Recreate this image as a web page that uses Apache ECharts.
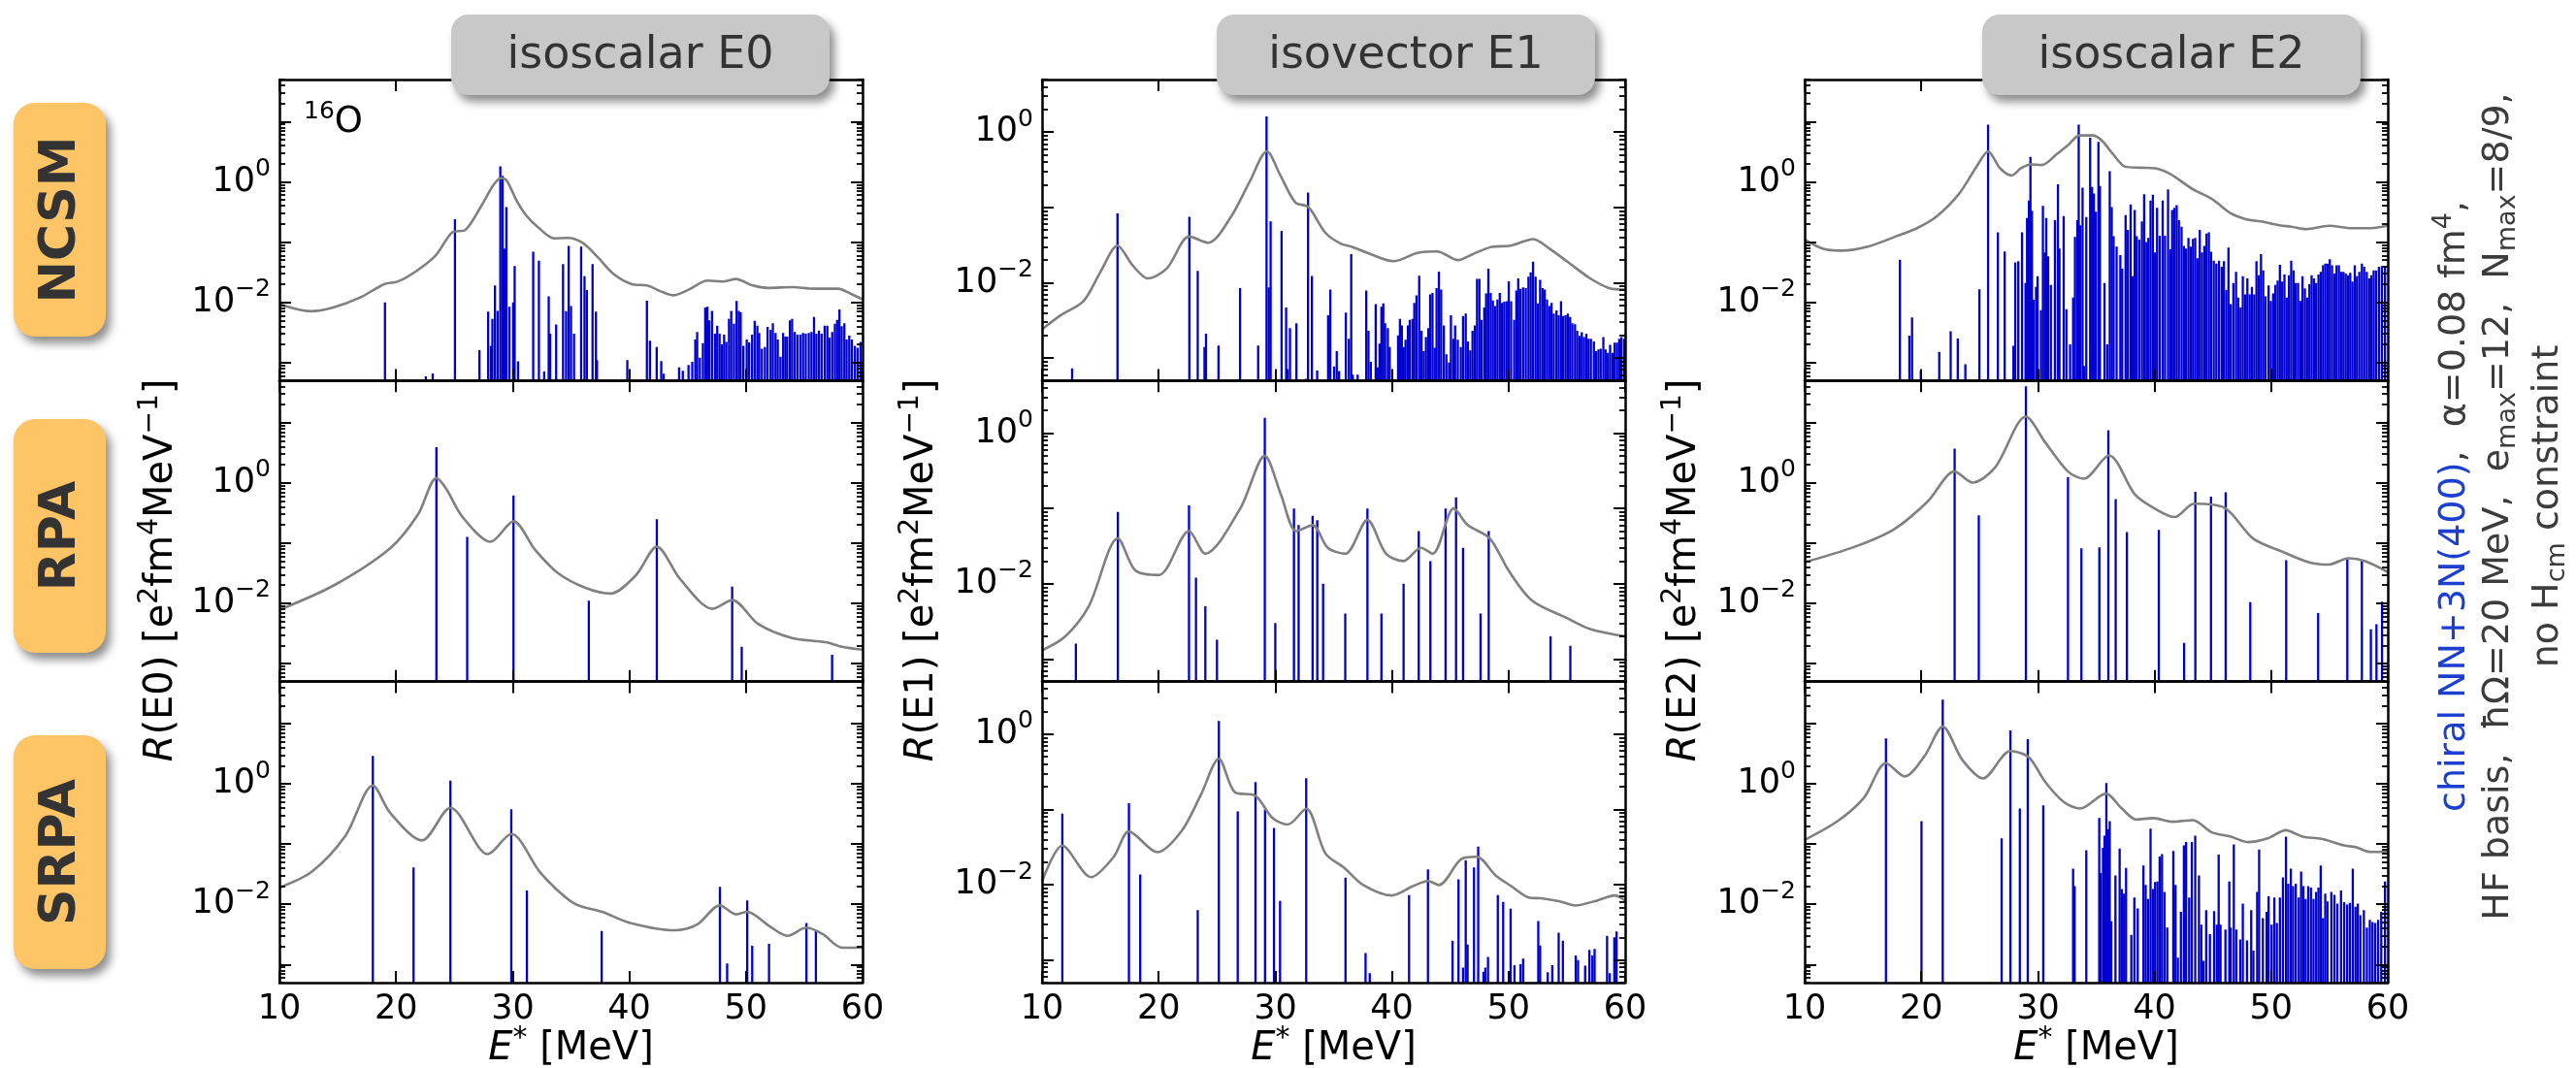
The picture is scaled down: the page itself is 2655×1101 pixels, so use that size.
<!DOCTYPE html>
<html>
<head>
<meta charset="utf-8">
<script src="https://cdn.jsdelivr.net/npm/echarts@6/dist/echarts.min.js"></script>
<style>
html, body { margin: 0; padding: 0; background: #ffffff; }
#chart { width: 2655px; height: 1101px; }
</style>
</head>
<body>
<div id="chart"></div>
<script>
// ---------------- data ----------------
const energyTicks = [10, 20, 30, 40, 50, 60];
const multipoles = ['isoscalar E0', 'isovector E1', 'isoscalar E2'];
const methods = ['NCSM', 'RPA', 'SRPA'];
const yRangeE0E2 = [5e-4, 50];
const yRangeE1 = [5e-4, 5];
const yLabelDecades = [1e-2, 1];

// transition strengths [E* (MeV), R (units of the column)]
const ncsmE0Sticks = [
  [19.05,1.0e-2],[22.55,5.9e-4],[23.14,6.6e-4],[25.05,0.24],[27.15,1.6e-3],[27.90,7.0e-3],[28.13,1.9e-3],
  [28.26,5.3e-3],[28.48,1.9e-2],[28.71,7.2e-3],[28.94,1.8],[29.13,1.26],[29.29,7.8e-2],[29.46,0.38],
  [29.72,8.4e-3],[30.04,1.0e-2],[30.17,4.0e-2],[30.46,1.05e-3],[31.76,6.9e-2],[32.25,4.9e-2],[32.70,7.1e-4],
  [33.09,1.26e-2],[33.22,3.0e-3],[33.73,4.3e-3],[34.32,4.3e-2],[34.58,7.1e-3],[34.80,8.6e-2],[35.00,8.7e-3],
  [35.26,3.0e-3],[35.87,8.4e-2],[36.16,2.7e-2],[36.36,1.6e-2],[36.85,4.3e-2],[37.14,7.0e-3],[37.23,1.1e-3],
  [39.83,1.1e-3],[41.51,1.06e-2],[41.77,2.3e-3],[42.35,1.8e-3],[42.74,1.06e-3],[42.94,6.5e-4],[44.27,8.3e-4],
  [44.59,7.3e-4],[45.08,9.1e-4],[45.40,1.03e-3],[45.66,2.4e-3],[45.82,3.2e-3],[46.05,1.2e-3],[46.31,2.1e-3],
  [46.51,8.2e-3],[46.70,8.4e-3],[46.86,5.0e-3],[47.09,7.2e-3],[47.35,3.0e-3],[47.54,4.1e-3],[47.74,3.0e-3],
  [47.93,2.0e-3],[48.13,2.9e-3],[48.32,2.2e-3],[48.55,5.3e-3],[48.74,7.2e-3],[48.97,4.4e-3],[49.20,1.05e-2],
  [49.39,7.2e-3],[49.55,6.8e-3],[49.78,1.9e-3],[50.07,2.4e-3],[50.27,2.15e-3],[50.53,2.9e-3],[50.75,4.9e-3],
  [50.98,4.1e-3],[51.14,3.1e-3],[51.37,1.7e-3],[51.63,1.8e-3],[51.86,3.9e-3],[52.12,3.5e-3],[52.31,4.5e-3],
  [52.54,3.1e-3],[52.73,2.4e-3],[52.96,1.25e-3],[53.19,3.1e-3],[53.38,2.7e-3],[53.54,2.7e-3],[53.77,5.0e-3],
  [53.96,5.3e-3],[54.19,3.2e-3],[54.42,2.9e-3],[54.68,2.9e-3],[54.90,3.1e-3],[55.13,3.0e-3],[55.39,3.1e-3],
  [55.62,3.2e-3],[55.84,5.7e-3],[56.04,3.0e-3],[56.26,3.4e-3],[56.49,3.0e-3],[56.75,4.1e-3],[56.98,4.1e-3],
  [57.17,2.6e-3],[57.40,3.2e-3],[57.63,4.4e-3],[57.82,5.1e-3],[58.02,7.6e-3],[58.21,4.0e-3],[58.44,4.5e-3],
  [58.63,2.4e-3],[58.86,2.8e-3],[59.08,2.4e-3],[59.34,1.9e-3],[59.57,1.75e-3],[59.83,2.2e-3]
];
const ncsmE0Curve = [
  [10.0,9.3e-3],[12.67,7.1e-3],[14.61,8.2e-3],[16.88,1.19e-2],[18.99,2.0e-2],[20.12,2.2e-2],[21.42,3.0e-2],
  [23.36,5.9e-2],[24.82,0.145],[25.96,0.16],[27.25,0.38],[28.39,0.91],[29.04,1.16],[29.52,1.03],[30.33,0.49],
  [31.14,0.28],[32.12,0.18],[33.57,0.115],[34.71,0.117],[36.0,0.097],[37.3,0.056],[38.6,0.030],[40.22,0.020],
  [41.52,0.019],[42.81,0.0149],[43.79,0.0131],[45.08,0.0162],[46.7,0.0229],[48.0,0.0221],[49.13,0.0244],
  [50.59,0.019],[51.89,0.0173],[54.0,0.0179],[55.78,0.0168],[57.89,0.0168],[59.02,0.0138],[60.0,0.0112]
];

const ncsmE1Sticks = [
  [12.58,7.3e-4],[16.47,8.3e-2],[22.63,7.5e-2],[23.35,1.44e-2],[23.93,1.4e-3],[24.06,2.1e-3],[25.13,1.46e-3],
  [26.98,8.5e-3],[28.53,1.46e-3],[29.25,1.62],[29.44,8.7e-3],[29.60,6.5e-2],[30.54,4.9e-2],[30.93,4.7e-3],
  [31.06,7.1e-4],[31.26,2.5e-3],[31.81,2.9e-3],[32.62,5.3e-4],[32.81,0.158],[33.14,1.23e-2],[33.59,6.8e-4],
  [34.53,3.7e-3],[34.72,8.1e-3],[35.05,7.7e-4],[35.27,1.23e-3],[35.47,6.7e-4],[36.05,4.0e-3],[36.31,1.8e-3],
  [36.51,2.4e-2],[36.64,6e-4],[37.06,6e-4],[37.80,7.9e-3],[37.99,2.3e-3],[38.19,8.9e-4],[38.61,5.2e-3],
  [38.78,7.5e-4],[38.94,1.55e-3],[39.10,4.8e-3],[39.26,5.3e-3],[39.42,2.9e-3],[39.65,2.5e-3],[39.81,1.4e-3],
  [40.53,2.0e-3],[40.69,3.3e-3],[40.85,2.7e-3],[41.01,1.4e-3],[41.17,1.75e-3],[41.37,2.7e-3],[41.53,3.2e-3],
  [41.76,3.3e-3],[41.92,5.4e-3],[42.11,6.8e-3],[42.34,1.24e-2],[42.54,2.3e-3],[42.73,1.23e-3],[42.92,1.9e-3],
  [43.12,2.5e-3],[43.28,7.0e-3],[43.48,7.3e-3],[43.67,1.37e-3],[43.83,8.5e-3],[44.03,1.4e-2],[44.22,8.1e-3],
  [44.45,2.7e-3],[44.67,1.12e-3],[44.90,8.7e-4],[45.06,3.7e-3],[45.26,1.8e-3],[45.42,2.7e-3],[45.65,1.75e-3],
  [45.91,1.4e-3],[46.10,3.6e-3],[46.33,3.9e-3],[46.52,1.66e-3],[46.72,1.26e-3],[46.91,2.3e-3],[47.11,2.7e-3],
  [47.30,1.12e-2],[47.50,1.12e-2],[47.69,3.2e-3],[47.92,4.7e-3],[48.08,7.2e-3],[48.27,1.54e-2],[48.47,7.3e-3],
  [48.66,5.8e-3],[48.86,4.9e-3],[49.05,6.0e-3],[49.25,7.3e-3],[49.44,5.4e-3],[49.63,5.6e-3],[49.83,5.7e-3],
  [50.02,1.04e-2],[50.22,5.7e-3],[50.48,3.2e-3],[50.67,7.9e-3],[50.83,1.14e-2],[51.03,8.3e-3],[51.25,8.7e-3],
  [51.48,8.5e-3],[51.71,1.2e-2],[51.90,1.37e-2],[52.10,1.9e-2],[52.32,1.2e-2],[52.52,5.3e-3],[52.71,1.09e-2],
  [52.91,8.5e-3],[53.10,8.1e-3],[53.30,6.0e-3],[53.49,4.9e-3],[53.69,5.4e-3],[53.88,3.9e-3],[54.11,4.3e-3],
  [54.30,3.7e-3],[54.50,5.7e-3],[54.69,3.6e-3],[54.89,3.7e-3],[55.08,3.9e-3],[55.28,3.5e-3],[55.47,2.9e-3],
  [55.70,2.8e-3],[55.89,2.3e-3],[56.09,1.96e-3],[56.28,2.2e-3],[56.47,1.9e-3],[56.67,2.1e-3],[56.86,1.8e-3],
  [57.06,1.8e-3],[57.32,1.66e-3],[57.51,1.23e-3],[57.71,1.3e-3],[57.90,1.33e-3],[58.13,1.9e-3],[58.32,1.3e-3],
  [58.52,1.17e-3],[58.71,1.5e-3],[58.91,1.17e-3],[59.10,1.6e-3],[59.30,1.6e-3],[59.49,1.8e-3],[59.68,1.9e-3],
  [59.91,1.8e-3]
];
const ncsmE1Curve = [
  [10.0,2.4e-3],[11.61,3.7e-3],[13.56,5.7e-3],[15.02,1.4e-2],[16.47,3.1e-2],[17.77,1.7e-2],[19.07,1.14e-2],
  [20.69,1.54e-2],[22.63,4.1e-2],[24.25,3.4e-2],[26.2,7.5e-2],[27.82,0.223],[29.28,0.556],[30.41,0.272],
  [31.71,0.117],[32.84,0.101],[34.3,4.6e-2],[35.6,3.3e-2],[36.57,3.0e-2],[37.87,2.5e-2],[40.14,1.93e-2],
  [42.24,2.5e-2],[43.87,2.6e-2],[45.65,2.0e-2],[46.94,2.4e-2],[48.56,3.0e-2],[50.18,3.1e-2],[52.13,3.8e-2],
  [53.43,2.9e-2],[55.05,1.9e-2],[57.0,1.14e-2],[58.61,8.5e-3],[60.0,8.1e-3]
];

const ncsmE2Sticks = [
  [18.17,5.1e-2],[18.98,2.8e-3],[19.21,5.6e-3],[19.96,7.3e-4],[21.54,1.5e-3],[22.52,3.3e-3],[23.13,2.5e-3],
  [23.78,9.4e-4],[24.98,1.64e-2],[25.73,8.9],[26.57,0.145],[27.15,7.0e-2],[27.90,1.9e-3],[28.06,4.6e-2],
  [28.32,4.8e-2],[28.64,0.145],[28.94,2.1e-2],[29.07,0.25],[29.23,0.49],[29.36,2.6],[29.49,0.33],[29.62,1.1e-2],
  [29.84,1.8e-2],[29.97,2.7e-2],[30.26,7.4e-3],[30.43,0.40],[30.59,6.7e-2],[30.72,0.25],[30.88,5.8e-2],
  [31.11,1.95e-2],[31.46,0.23],[31.72,0.91],[31.85,7.8e-2],[32.21,0.27],[32.44,7.7e-3],[32.76,2.0e-3],
  [33.02,1.2e-2],[33.18,0.122],[33.38,0.23],[33.50,8.9],[33.63,0.19],[33.83,0.80],[33.96,8.8e-4],[34.15,0.26],
  [34.48,5.4],[34.64,0.82],[34.80,0.64],[34.96,0.32],[35.19,4.6],[35.32,0.85],[35.71,2.1e-2],[35.94,2.0e-3],
  [36.16,1.5],[36.33,0.38],[36.49,0.125],[36.75,8.4e-2],[37.07,6.1e-2],[37.23,3.6e-2],[37.52,0.28],[37.72,0.16],
  [37.95,0.42],[38.11,2.7e-2],[38.30,0.34],[38.47,0.125],[38.69,0.11],[38.92,0.22],[39.11,0.62],[39.31,0.10],
  [39.47,0.117],[39.66,0.49],[39.86,0.61],[40.05,6.7e-2],[40.22,0.37],[40.44,0.128],[40.70,0.49],[40.90,0.128],
  [41.16,0.75],[41.35,7.6e-2],[41.51,0.34],[41.71,0.37],[41.90,0.41],[42.09,0.23],[42.32,0.18],[42.52,8.6e-2],
  [42.71,7.8e-2],[42.91,0.117],[43.10,8.4e-2],[43.30,0.113],[43.49,0.117],[43.68,5.4e-2],[43.88,0.16],
  [44.07,6.7e-2],[44.27,8.6e-2],[44.46,0.138],[44.66,0.145],[44.85,6.9e-2],[45.08,4.9e-2],[45.30,4.4e-2],
  [45.53,4.9e-2],[45.76,3.9e-2],[45.95,4.8e-2],[46.15,1.6e-2],[46.34,8.1e-2],[46.54,9.3e-3],[46.76,2.1e-2],
  [46.99,3.2e-2],[47.18,1.2e-2],[47.38,8.2e-3],[47.57,2.7e-2],[47.77,1.35e-2],[47.96,2.5e-2],[48.16,1.35e-2],
  [48.35,1.8e-2],[48.55,1.35e-2],[48.74,4.8e-2],[48.94,2.8e-2],[49.13,6.3e-2],[49.32,3.4e-2],[49.52,1.26e-2],
  [49.78,1.9e-2],[49.97,1.05e-2],[50.17,1.4e-2],[50.36,1.95e-2],[50.56,2.3e-2],[50.75,4.2e-2],[50.95,2.2e-2],
  [51.14,2.9e-2],[51.33,1.2e-2],[51.53,2.8e-2],[51.72,4.9e-2],[51.92,3.4e-2],[52.11,2.1e-2],[52.31,2.1e-2],
  [52.50,1.05e-2],[52.69,2.7e-2],[52.89,1.7e-2],[53.08,1.2e-2],[53.28,2.0e-2],[53.47,2.8e-2],[53.67,2.5e-2],
  [53.86,2.1e-2],[54.06,2.9e-2],[54.25,3.2e-2],[54.45,4.1e-2],[54.64,4.4e-2],[54.83,4.4e-2],[55.03,5.2e-2],
  [55.22,4.1e-2],[55.42,3.0e-2],[55.61,4.1e-2],[55.81,4.1e-2],[56.00,3.2e-2],[56.20,3.2e-2],[56.39,3.0e-2],
  [56.58,2.8e-2],[56.78,3.1e-2],[56.97,2.2e-2],[57.17,4.1e-2],[57.36,2.7e-2],[57.56,3.2e-2],[57.78,4.4e-2],
  [57.98,3.9e-2],[58.20,3.2e-2],[58.40,2.5e-2],[58.59,2.8e-2],[58.79,3.4e-2],[59.00,3.4e-2],[59.24,3.9e-2],
  [59.50,4.0e-2],[59.76,3.9e-2]
];
const ncsmE2Curve = [
  [10.0,0.11],[11.53,7.8e-2],[13.15,7.2e-2],[15.42,8.4e-2],[18.01,0.128],[19.63,0.17],[21.25,0.26],[23.2,0.62],
  [24.82,1.9],[25.73,3.2],[26.76,1.68],[27.74,1.28],[28.55,1.68],[29.36,1.95],[30.33,1.9],[31.63,2.9],[32.6,4.1],
  [33.57,5.9],[34.7,5.9],[35.51,4.8],[36.49,2.8],[37.46,1.8],[38.76,1.72],[40.05,1.68],[41.35,1.35],[43.3,0.75],
  [44.92,0.52],[46.54,0.30],[47.83,0.24],[49.13,0.22],[50.75,0.19],[51.72,0.18],[53.02,0.164],[54.96,0.186],
  [56.91,0.17],[58.53,0.17],[60.0,0.186]
];

const rpaE0Sticks = [
  [23.46,3.9],[26.1,0.126],[30.07,0.62],[36.53,1.1e-2],[42.36,0.25],[48.82,1.9e-2],[49.64,1.9e-3],[57.39,1.4e-3]
];
const rpaE0Curve = [
  [10.0,7.8e-3],[14.7,2.0e-2],[19.49,8.2e-2],[21.89,0.30],[23.46,1.2],[24.28,0.81],[25.71,0.27],[28.11,0.105],
  [30.07,0.23],[31.93,7.7e-2],[33.85,3.2e-2],[36.24,1.8e-2],[38.39,1.45e-2],[40.55,2.9e-2],[42.36,8.7e-2],
  [44.37,2.5e-2],[47.15,8.1e-3],[48.82,1.13e-2],[51.07,4.5e-3],[53.94,2.65e-3],[56.81,2.26e-3],[58.25,1.9e-3],
  [60.0,1.7e-3]
];

const rpaE1Sticks = [
  [12.9,1.6e-3],[16.5,9.0e-2],[22.6,0.11],[23.2,1.2e-2],[24.0,5e-3],[25.0,1.8e-3],[29.1,1.6],[30.0,3e-3],
  [31.6,0.1],[32.0,6e-2],[33.2,8e-2],[33.6,7e-2],[34.1,1e-2],[36.0,4e-3],[37.9,0.1],[39.1,4e-3],[41.0,1e-2],
  [42.3,5e-2],[43.3,2e-2],[44.6,0.1],[45.5,0.14],[46.1,3e-2],[47.6,4e-3],[48.3,5e-2],[53.6,2e-3],[55.3,1.5e-3]
];
const rpaE1Curve = [
  [10.0,1.3e-3],[12.0,2.0e-3],[14.0,5e-3],[16.5,4e-2],[18.0,1.5e-2],[20.0,1.3e-2],[22.6,5e-2],[24.0,2.5e-2],
  [27.0,0.1],[29.1,0.5],[30.5,0.15],[31.8,5e-2],[33.2,6e-2],[34.5,3e-2],[36.0,2.5e-2],[37.9,7e-2],[39.5,2.5e-2],
  [41.0,2e-2],[42.5,3e-2],[43.5,2.5e-2],[45.3,0.1],[46.5,6e-2],[48.4,4e-2],[50.0,1.5e-2],[52.0,6e-3],
  [55.0,3.5e-3],[57.0,2.5e-3],[60.0,2e-3]
];

const rpaE2Sticks = [
  [22.86,3.7],[24.93,0.29],[28.97,40],[32.58,1.25],[33.73,8.2e-2],[35.27,8.5e-2],[36.04,7.5],[36.67,0.54],
  [37.63,0.152],[40.37,0.166],[42.54,2.2e-3],[43.5,0.71],[44.84,0.59],[46.1,0.70],[48.21,1.04e-2],[51.29,5.2e-2],
  [54.03,6.9e-3],[56.53,5.4e-2],[57.78,5.2e-2],[58.55,3.7e-3],[59.03,4.5e-3],[59.51,1.06e-2]
];
const rpaE2Curve = [
  [10.0,4.8e-2],[14.3,8.7e-2],[17.67,0.17],[20.55,0.49],[22.86,1.54],[24.4,1.01],[26.33,1.8],[28.97,12.6],
  [30.66,4.6],[32.58,1.54],[33.93,1.17],[36.09,2.86],[38.35,0.63],[40.27,0.35],[41.72,0.27],[43.4,0.45],
  [46.05,0.38],[48.45,0.119],[51.1,7.0e-2],[53.26,4.8e-2],[54.94,4.4e-2],[56.63,5.6e-2],[58.07,5.0e-2],[60.0,3.3e-2]
];

const srpaE0Sticks = [
  [18.01,2.9],[21.5,4.1e-2],[24.66,1.13],[29.88,0.38],[31.22,1.7e-2],[37.63,3.6e-3],[47.77,1.95e-2],
  [48.39,1.04e-3],[50.11,1.16e-2],[50.54,2.05e-3],[51.98,2.2e-3],[55.19,4.9e-3],[56.0,3.6e-3]
];
const srpaE0Curve = [
  [10.0,1.9e-2],[12.79,3.5e-2],[15.67,0.138],[18.01,0.94],[19.49,0.33],[22.22,0.115],[24.66,0.40],[27.87,6.8e-2],
  [29.88,0.147],[32.41,3.3e-2],[35.28,1.03e-2],[37.67,7.5e-3],[40.07,4.9e-3],[43.89,3.7e-3],[45.81,4.6e-3],
  [47.77,9.6e-3],[49.16,6.8e-3],[50.11,7.5e-3],[52.03,4.3e-3],[53.56,3.0e-3],[55.19,4.1e-3],[56.58,3.2e-3],
  [58.25,1.9e-3],[60.0,1.9e-3]
];

const srpaE1Sticks = [
  [11.74,8.8e-2],[17.45,0.121],[18.42,1.37e-2],[23.35,4.6e-3],[25.16,1.5],[26.78,9.4e-2],[28.3,0.23],
  [29.12,9.9e-2],[29.89,5.7e-2],[30.41,6.1e-3],[32.65,0.26],[36.02,1.24e-2],[37.74,1.24e-3],[38.1,6.7e-4],
  [41.47,7.3e-3],[43.09,1.6e-2],[45.2,1.8e-3],[45.71,1.18e-2],[46.1,7.9e-4],[46.33,2.1e-2],[46.49,1.6e-3],
  [47.04,1.7e-2],[47.4,3.2e-2],[47.85,7e-4],[48.01,7.9e-4],[48.24,1.1e-3],[49.08,7.3e-3],[49.54,5.9e-3],
  [50.18,4.8e-3],[50.51,8.5e-4],[51.03,8.8e-4],[51.25,1.04e-3],[52.55,3.3e-3],[52.71,1.55e-3],[53.36,6.9e-4],
  [53.75,8.5e-4],[54.3,2.3e-3],[54.66,1.8e-3],[55.76,1.15e-3],[55.96,1.0e-3],[56.57,8.4e-4],[56.93,1.36e-3],
  [57.19,1.15e-3],[57.38,1.4e-3],[58.45,2.1e-3],[58.68,6.7e-4],[59.07,2.0e-3],[59.26,2.4e-3]
];
const srpaE1Curve = [
  [10.0,1.1e-2],[11.74,3.3e-2],[14.2,1.26e-2],[16.15,2.35e-2],[17.45,5.1e-2],[19.88,2.7e-2],[21.98,5.2e-2],
  [23.61,0.155],[25.16,0.47],[26.52,0.17],[28.3,0.152],[29.76,7.7e-2],[31.06,6.3e-2],[32.65,0.102],[34.3,2.6e-2],
  [35.92,1.67e-2],[37.54,9.9e-3],[39.98,7.2e-3],[41.76,9.5e-3],[43.09,1.12e-2],[44.03,9.9e-3],[45.97,2.2e-2],
  [47.27,2.35e-2],[48.89,1.33e-2],[50.18,9.7e-3],[51.81,6.7e-3],[52.78,6.6e-3],[54.4,6.0e-3],[55.7,5.3e-3],
  [57.64,6.2e-3],[59.1,7.2e-3],[60.0,6.2e-3]
];

const srpaE2Sticks = [
  [16.97,5.7],[20.02,0.24],[21.84,25],[26.89,0.125],[27.64,7.7],[28.45,0.39],[29.13,5.5],[30.46,0.44],
  [33.02,3.9e-2],[33.15,2.0e-2],[34.15,7.9e-2],[35.26,0.27],[35.38,3.3e-2],[35.58,8.7e-2],[35.71,0.138],
  [35.87,1.03],[36.03,0.177],[36.16,0.24],[36.29,5.2e-3],[36.65,3.0e-2],[37.01,8.4e-2],[37.2,1.8e-2],[37.39,1.5e-2],
  [37.56,4.0e-2],[38.01,3.1e-3],[38.27,1.3e-2],[38.56,8.5e-3],[39.05,4.4e-2],[39.24,2.1e-2],[39.44,1.23e-2],
  [39.66,0.18],[39.86,1.8e-2],[40.05,2.35e-2],[40.25,2.4e-2],[40.44,6.2e-2],[40.64,6.8e-2],[40.86,1.6e-2],
  [41.09,4.1e-3],[41.61,7.7e-2],[41.8,2.1e-2],[42.0,1.3e-3],[42.26,7.5e-3],[42.52,9.5e-2],[42.71,0.108],
  [42.97,1.3e-2],[43.2,0.108],[43.49,0.138],[43.81,3.0e-2],[44.01,4.6e-3],[44.2,1.15e-3],[44.43,8.0e-3],
  [44.75,3.2e-3],[45.11,7.7e-3],[45.34,4.6e-3],[45.5,6.7e-2],[45.66,4.6e-3],[46.08,3.8e-3],[46.41,2.4e-2],
  [46.54,4.1e-3],[46.8,9.9e-2],[47.02,3.8e-3],[47.35,2.6e-3],[47.57,1.03e-2],[47.93,2.5e-3],[48.29,8.0e-3],
  [48.48,1.7e-3],[48.8,1.6e-2],[48.97,8.1e-2],[49.29,5.9e-3],[49.61,7.5e-3],[49.78,1.36e-2],[50.04,4.6e-3],
  [50.27,1.3e-2],[50.49,4.9e-3],[50.75,1.3e-2],[51.01,2.8e-2],[51.27,0.133],[51.46,2.2e-2],[51.69,3.9e-2],
  [51.88,2.0e-2],[52.11,2.2e-2],[52.37,1.3e-2],[52.57,3.5e-2],[52.76,2.0e-2],[52.95,1.23e-2],[53.18,2.0e-2],
  [53.41,1.9e-2],[53.63,1.23e-2],[53.86,1.6e-2],[54.06,1.9e-2],[54.25,4.4e-2],[54.45,5.9e-3],[54.64,1.5e-2],
  [54.83,1.12e-2],[55.16,1.6e-2],[55.42,1.43e-2],[55.68,1.03e-2],[55.99,1.7e-2],[56.26,1.09e-2],[56.52,9.9e-3],
  [56.75,1.06e-2],[57.0,3.9e-2],[57.23,9.1e-3],[57.43,1.03e-2],[57.65,6.6e-3],[57.95,8.0e-3],[58.21,4.1e-3],
  [58.46,5.5e-3],[58.69,5.1e-3],[58.92,4.9e-3],[59.18,5.5e-3],[59.44,7.5e-3],[59.76,2.4e-2]
];
const srpaE2Curve = [
  [10.0,0.117],[12.82,0.24],[15.09,0.59],[16.97,2.2],[18.59,1.33],[20.28,2.9],[21.84,8.9],[23.52,2.5],[25.3,1.23],
  [27.64,3.5],[29.19,2.8],[30.65,1.06],[32.27,0.49],[33.63,0.39],[35.84,0.69],[37.14,0.40],[38.43,0.256],
  [39.89,0.27],[41.51,0.235],[43.29,0.25],[44.92,0.156],[46.54,0.133],[48.0,0.108],[49.78,0.126],[51.24,0.17],
  [52.7,0.133],[54.32,0.122],[56.26,9.5e-2],[57.23,8.9e-2],[58.53,7.4e-2],[60.0,7.4e-2]
];

// ---------------- layout & style ----------------
const FONT = 'DejaVu Sans';
const TEXT_DARK = '#333333';
const STICK_COLOR = '#0000d0';
const CURVE_COLOR = '#808080';
const GEOM = { left: [288, 1074, 1860], top: [82, 392.3, 702.6], width: 601, height: 310.4 };

const panels = [
  [ncsmE0Sticks, ncsmE0Curve], [ncsmE1Sticks, ncsmE1Curve], [ncsmE2Sticks, ncsmE2Curve],
  [rpaE0Sticks, rpaE0Curve], [rpaE1Sticks, rpaE1Curve], [rpaE2Sticks, rpaE2Curve],
  [srpaE0Sticks, srpaE0Curve], [srpaE1Sticks, srpaE1Curve], [srpaE2Sticks, srpaE2Curve]
];

const lg = v => Math.log10(v);

function decadeTicks(lo, hi) {
  const major = [], minor = [];
  for (let k = Math.floor(lo) - 1; k <= Math.ceil(hi); k++) {
    if (k >= lo - 1e-9 && k <= hi + 1e-9) major.push(k);
    for (let m = 2; m <= 9; m++) {
      const v = k + lg(m);
      if (v >= lo && v <= hi) minor.push(v);
    }
  }
  return { major, minor };
}

const powerLabelRich = {
  b: { fontSize: 35, fontFamily: FONT, color: '#000' },
  s: { fontSize: 25, fontFamily: FONT, color: '#000', padding: [0, 0, 26, 0] }
};
const powerLabel = v => '{b|10}{s|' + (v < 0 ? '\u2212' + Math.round(-v) : Math.round(v)) + '}';

const grids = [], xAxes = [], yAxes = [], series = [];
panels.forEach(([sticks, curve], p) => {
  const row = Math.floor(p / 3), col = p % 3;
  const range = col === 1 ? yRangeE1 : yRangeE0E2;
  const lo = lg(range[0]), hi = lg(range[1]);
  const ticks = decadeTicks(lo, hi);

  grids.push({
    left: GEOM.left[col], top: GEOM.top[row], width: GEOM.width, height: GEOM.height,
    outerBoundsMode: 'none', containLabel: false
  });

  const frameLine = { show: true, onZero: false, lineStyle: { color: '#000', width: 2.5 } };
  ['bottom', 'top'].forEach(pos => {
    xAxes.push({
      gridIndex: p, type: 'value', position: pos, min: energyTicks[0], max: energyTicks[energyTicks.length - 1],
      interval: 10, z: 6,
      axisLine: frameLine,
      axisTick: { show: true, inside: true, length: 12, lineStyle: { color: '#000', width: 2 } },
      axisLabel: {
        show: pos === 'bottom' && row === 2, margin: 10, fontSize: 35, fontFamily: FONT, color: '#000',
        showMinLabel: true, showMaxLabel: true
      },
      splitLine: { show: false }
    });
  });
  ['left', 'right'].forEach(pos => {
    yAxes.push({
      gridIndex: p, type: 'value', position: pos, min: lo, max: hi, z: 6,
      axisLine: frameLine,
      axisTick: { show: true, inside: true, length: 12, customValues: ticks.major, lineStyle: { color: '#000', width: 2 } },
      axisLabel: {
        show: pos === 'left', customValues: yLabelDecades.map(lg), margin: 9,
        formatter: powerLabel, rich: powerLabelRich
      },
      splitLine: { show: false }
    });
    yAxes.push({
      gridIndex: p, type: 'value', position: pos, min: lo, max: hi, z: 6,
      axisLine: { show: false, onZero: false },
      axisTick: { show: true, inside: true, length: 6, customValues: ticks.minor, lineStyle: { color: '#000', width: 1.8 } },
      axisLabel: { show: false },
      splitLine: { show: false }
    });
  });

  series.push({
    type: 'custom', xAxisIndex: 2 * p, yAxisIndex: 4 * p, z: 3, clip: true,
    data: sticks.map(([e, r]) => [e, lg(r)]),
    encode: { x: 0, y: 1 },
    renderItem: (params, api) => {
      const top = api.coord([api.value(0), api.value(1)]);
      const base = api.coord([api.value(0), lo]);
      return {
        type: 'line',
        shape: { x1: top[0], y1: base[1], x2: top[0], y2: top[1] },
        style: { stroke: STICK_COLOR, lineWidth: 2.3 }
      };
    },
    silent: true
  });
  series.push({
    type: 'line', xAxisIndex: 2 * p, yAxisIndex: 4 * p, z: 4,
    data: curve.map(([e, r]) => [e, lg(r)]),
    smooth: 0.3, showSymbol: false, symbol: 'none', clip: true,
    lineStyle: { color: CURVE_COLOR, width: 2.6 },
    silent: true
  });
});

// ---------------- annotations ----------------
const graphics = [];
const shadow = { shadowBlur: 10, shadowOffsetX: 5, shadowOffsetY: 7, shadowColor: 'rgba(0,0,0,0.45)' };

// column headers
const headerBoxes = [[465, 15], [1254, 15], [2043, 15]];
multipoles.forEach((name, i) => {
  const [x, y] = headerBoxes[i];
  graphics.push({
    type: 'rect', z: 20, shape: { x, y, width: 390, height: 83, r: 18 },
    style: Object.assign({ fill: '#c8c8c8' }, shadow)
  });
  graphics.push({
    type: 'text', z: 21, x: x + 195, y: y + 43,
    style: { text: name, font: '46px "DejaVu Sans"', fill: TEXT_DARK, align: 'center', verticalAlign: 'middle' }
  });
});

// method labels
const methodBoxes = [106, 432, 758];
methods.forEach((name, i) => {
  const y = methodBoxes[i];
  graphics.push({
    type: 'rect', z: 20, shape: { x: 14, y, width: 95, height: 241, r: 22 },
    style: Object.assign({ fill: '#fdc566' }, shadow)
  });
  graphics.push({
    type: 'text', z: 21, x: 63, y: y + 120.5, rotation: Math.PI / 2,
    style: { text: name, font: 'bold 52px "DejaVu Sans"', fill: TEXT_DARK, align: 'center', verticalAlign: 'middle' }
  });
});

// axis titles
const supStyle = (size, raise) => ({ fontSize: size, fontFamily: FONT, fill: '#000', padding: [0, 0, raise, 0] });
const baseStyle = size => ({ fontSize: size, fontFamily: FONT, fill: '#000' });
const italStyle = size => ({ fontSize: size, fontFamily: FONT, fill: '#000', fontStyle: 'italic' });
const yTitles = [
  ['0', '4'], ['1', '2'], ['2', '4']
];
const yTitleX = [167, 951, 1737];
yTitles.forEach(([l, pw], i) => {
  graphics.push({
    type: 'text', z: 21, x: yTitleX[i], y: 588, rotation: Math.PI / 2,
    style: {
      text: '{i|R}{n|(E' + l + ') [e}{s|2}{n|fm}{s|' + pw + '}{n|MeV}{s|\u22121}{n|]}',
      align: 'center', verticalAlign: 'middle',
      rich: { i: italStyle(40), n: baseStyle(40), s: supStyle(28, 24) }
    }
  });
});
GEOM.left.forEach(l => {
  graphics.push({
    type: 'text', z: 21, x: l + GEOM.width / 2, y: 1082,
    style: {
      text: '{i|E}{s|*}{n| [MeV]}', align: 'center', verticalAlign: 'middle',
      rich: { i: italStyle(40), n: baseStyle(40), s: supStyle(30, 22) }
    }
  });
});

// nucleus tag
graphics.push({
  type: 'text', z: 21, x: 313, y: 126,
  style: {
    text: '{s|16}{n|O}', align: 'left', verticalAlign: 'middle',
    rich: { n: baseStyle(37), s: supStyle(25, 22) }
  }
});

// calculation details
const grey = size => ({ fontSize: size, fontFamily: FONT, fill: '#3c3c3c' });
const greySub = size => ({ fontSize: size, fontFamily: FONT, fill: '#3c3c3c', padding: [20, 0, 0, 0] });
const greySup = size => ({ fontSize: size, fontFamily: FONT, fill: '#3c3c3c', padding: [0, 0, 22, 0] });
const detailLines = [
  [2530, '{b|chiral NN+3N(400)}{g|,  \u03b1=0.08 fm}{p|4}{g|,}'],
  [2575, '{g|HF basis,  \u0127\u03a9=20 MeV,  e}{u|max}{g|=12,  N}{u|max}{g|=8/9,}'],
  [2626, '{g|no H}{u|cm}{g| constraint}']
];
detailLines.forEach(([x, txt]) => {
  graphics.push({
    type: 'text', z: 21, x, y: 522, rotation: Math.PI / 2,
    style: {
      text: txt, align: 'center', verticalAlign: 'middle',
      rich: {
        b: { fontSize: 38, fontFamily: FONT, fill: '#1c3fd0' },
        g: grey(38), u: greySub(27), p: greySup(27)
      }
    }
  });
});

const chart = echarts.init(document.getElementById('chart'), null, { renderer: 'canvas' });
chart.setOption({
  animation: false,
  backgroundColor: '#ffffff',
  grid: grids,
  xAxis: xAxes,
  yAxis: yAxes,
  series: series,
  graphic: graphics
});
</script>
</body>
</html>
